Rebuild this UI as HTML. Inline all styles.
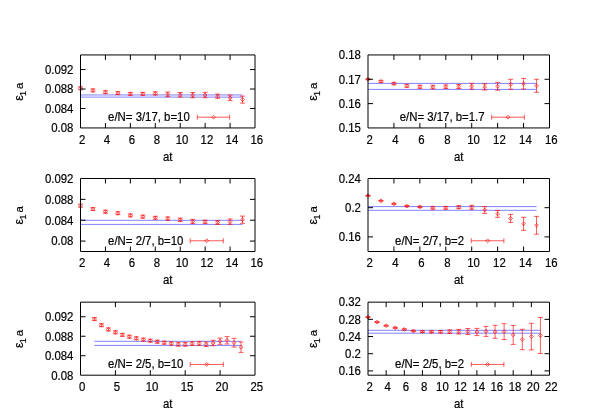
<!DOCTYPE html>
<html><head><meta charset="utf-8"><title>plot</title>
<style>html,body{margin:0;padding:0;background:#fff}svg{display:block;will-change:transform}text{font-family:"Liberation Sans",sans-serif;font-size:11.4px;fill:#000;stroke:#000;stroke-width:0.18px}</style></head><body>
<svg width="589" height="412" viewBox="0 0 589 412">
<rect width="589" height="412" fill="#fff"/>
<path d="M80.50 94.95H242.54M80.50 97.10H242.54" stroke="#0000ff" stroke-width="0.5" fill="none"/>
<path d="M80.50 86.80V89.80M78.00 86.80h5M78.00 89.80h5M78.60 88.30l1.90 -1.90l1.90 1.90l-1.90 1.90zM92.96 88.90V91.90M90.46 88.90h5M90.46 91.90h5M91.06 90.40l1.90 -1.90l1.90 1.90l-1.90 1.90zM105.43 90.70V93.70M102.93 90.70h5M102.93 93.70h5M103.53 92.20l1.90 -1.90l1.90 1.90l-1.90 1.90zM117.89 91.60V94.60M115.39 91.60h5M115.39 94.60h5M115.99 93.10l1.90 -1.90l1.90 1.90l-1.90 1.90zM130.36 92.40V95.40M127.86 92.40h5M127.86 95.40h5M128.46 93.90l1.90 -1.90l1.90 1.90l-1.90 1.90zM142.82 92.40V95.40M140.32 92.40h5M140.32 95.40h5M140.92 93.90l1.90 -1.90l1.90 1.90l-1.90 1.90zM155.29 91.80V95.00M152.79 91.80h5M152.79 95.00h5M153.39 93.40l1.90 -1.90l1.90 1.90l-1.90 1.90zM167.75 92.00V96.60M165.25 92.00h5M165.25 96.60h5M165.85 94.30l1.90 -1.90l1.90 1.90l-1.90 1.90zM180.21 92.50V97.10M177.71 92.50h5M177.71 97.10h5M178.31 94.80l1.90 -1.90l1.90 1.90l-1.90 1.90zM192.68 92.50V97.70M190.18 92.50h5M190.18 97.70h5M190.78 95.10l1.90 -1.90l1.90 1.90l-1.90 1.90zM205.14 92.30V97.70M202.64 92.30h5M202.64 97.70h5M203.24 95.00l1.90 -1.90l1.90 1.90l-1.90 1.90zM217.61 94.10V98.30M215.11 94.10h5M215.11 98.30h5M215.71 96.20l1.90 -1.90l1.90 1.90l-1.90 1.90zM230.07 95.00V100.60M227.57 95.00h5M227.57 100.60h5M228.17 97.80l1.90 -1.90l1.90 1.90l-1.90 1.90zM242.54 96.10V103.10M240.04 96.10h5M240.04 103.10h5M240.64 99.60l1.90 -1.90l1.90 1.90l-1.90 1.90zM197.30 117.20H229.70M197.30 114.70v5M229.70 114.70v5M211.60 117.20l1.90 -1.90l1.90 1.90l-1.90 1.90z" stroke="#ff0000" stroke-width="0.65" fill="none"/>
<path d="M80.50 54.95H255.00V127.95H80.50ZM105.43 127.95v-5.00M105.43 54.95v5.00M130.36 127.95v-5.00M130.36 54.95v5.00M155.29 127.95v-5.00M155.29 54.95v5.00M180.21 127.95v-5.00M180.21 54.95v5.00M205.14 127.95v-5.00M205.14 54.95v5.00M230.07 127.95v-5.00M230.07 54.95v5.00M80.50 108.48h5.00M255.00 108.48h-5.00M80.50 89.02h5.00M255.00 89.02h-5.00M80.50 69.55h5.00M255.00 69.55h-5.00" stroke="#000000" stroke-width="1.0" fill="none" stroke-linecap="butt"/>
<text transform="translate(82.10 143.65) scale(1 1.05)" text-anchor="middle">2</text>
<text transform="translate(107.03 143.65) scale(1 1.05)" text-anchor="middle">4</text>
<text transform="translate(131.96 143.65) scale(1 1.05)" text-anchor="middle">6</text>
<text transform="translate(156.89 143.65) scale(1 1.05)" text-anchor="middle">8</text>
<text transform="translate(182.01 143.65) scale(1 1.05)" text-anchor="middle">10</text>
<text transform="translate(206.94 143.65) scale(1 1.05)" text-anchor="middle">12</text>
<text transform="translate(231.87 143.65) scale(1 1.05)" text-anchor="middle">14</text>
<text transform="translate(256.80 143.65) scale(1 1.05)" text-anchor="middle">16</text>
<text transform="translate(73.40 132.25) scale(1 1.05)" text-anchor="end">0.08</text>
<text transform="translate(73.40 112.78) scale(1 1.05)" text-anchor="end">0.084</text>
<text transform="translate(73.40 93.32) scale(1 1.05)" text-anchor="end">0.088</text>
<text transform="translate(73.40 73.85) scale(1 1.05)" text-anchor="end">0.092</text>
<text transform="translate(167.75 160.55) scale(1 1.05)" text-anchor="middle">at</text>
<g transform="translate(22.80 91.75) rotate(-90)"><text x="-9.1" y="0" style="font-size:12.4px">&#949;</text><text x="-4.3" y="3.2" style="font-size:9.12px">1</text><text x="2.8" y="0">a</text></g>
<text transform="translate(108.10 121.10) scale(1 1.05)" text-anchor="start">e/N= 3/17, b=10</text>
<path d="M368.00 83.40H536.54M368.00 89.40H536.54" stroke="#0000ff" stroke-width="0.5" fill="none"/>
<path d="M368.00 78.70V79.70M365.50 78.70h5M365.50 79.70h5M366.10 79.20l1.90 -1.90l1.90 1.90l-1.90 1.90zM380.96 80.40V82.40M378.46 80.40h5M378.46 82.40h5M379.06 81.40l1.90 -1.90l1.90 1.90l-1.90 1.90zM393.93 82.40V84.80M391.43 82.40h5M391.43 84.80h5M392.03 83.60l1.90 -1.90l1.90 1.90l-1.90 1.90zM406.89 84.30V87.30M404.39 84.30h5M404.39 87.30h5M404.99 85.80l1.90 -1.90l1.90 1.90l-1.90 1.90zM419.86 85.20V88.40M417.36 85.20h5M417.36 88.40h5M417.96 86.80l1.90 -1.90l1.90 1.90l-1.90 1.90zM432.82 85.20V88.80M430.32 85.20h5M430.32 88.80h5M430.92 87.00l1.90 -1.90l1.90 1.90l-1.90 1.90zM445.79 84.90V88.50M443.29 84.90h5M443.29 88.50h5M443.89 86.70l1.90 -1.90l1.90 1.90l-1.90 1.90zM458.75 84.50V88.50M456.25 84.50h5M456.25 88.50h5M456.85 86.50l1.90 -1.90l1.90 1.90l-1.90 1.90zM471.71 83.40V89.20M469.21 83.40h5M469.21 89.20h5M469.81 86.30l1.90 -1.90l1.90 1.90l-1.90 1.90zM484.68 83.80V90.00M482.18 83.80h5M482.18 90.00h5M482.78 86.90l1.90 -1.90l1.90 1.90l-1.90 1.90zM497.64 82.40V90.20M495.14 82.40h5M495.14 90.20h5M495.74 86.30l1.90 -1.90l1.90 1.90l-1.90 1.90zM510.61 79.30V89.30M508.11 79.30h5M508.11 89.30h5M508.71 84.30l1.90 -1.90l1.90 1.90l-1.90 1.90zM523.57 78.40V89.00M521.07 78.40h5M521.07 89.00h5M521.67 83.70l1.90 -1.90l1.90 1.90l-1.90 1.90zM536.54 79.30V92.30M534.04 79.30h5M534.04 92.30h5M534.64 85.80l1.90 -1.90l1.90 1.90l-1.90 1.90zM491.70 117.20H524.30M491.70 114.70v5M524.30 114.70v5M506.10 117.20l1.90 -1.90l1.90 1.90l-1.90 1.90z" stroke="#ff0000" stroke-width="0.65" fill="none"/>
<path d="M368.00 54.95H549.50V127.95H368.00ZM393.93 127.95v-5.00M393.93 54.95v5.00M419.86 127.95v-5.00M419.86 54.95v5.00M445.79 127.95v-5.00M445.79 54.95v5.00M471.71 127.95v-5.00M471.71 54.95v5.00M497.64 127.95v-5.00M497.64 54.95v5.00M523.57 127.95v-5.00M523.57 54.95v5.00M368.00 103.62h5.00M549.50 103.62h-5.00M368.00 79.28h5.00M549.50 79.28h-5.00" stroke="#000000" stroke-width="1.0" fill="none" stroke-linecap="butt"/>
<text transform="translate(369.60 143.65) scale(1 1.05)" text-anchor="middle">2</text>
<text transform="translate(395.53 143.65) scale(1 1.05)" text-anchor="middle">4</text>
<text transform="translate(421.46 143.65) scale(1 1.05)" text-anchor="middle">6</text>
<text transform="translate(447.39 143.65) scale(1 1.05)" text-anchor="middle">8</text>
<text transform="translate(473.51 143.65) scale(1 1.05)" text-anchor="middle">10</text>
<text transform="translate(499.44 143.65) scale(1 1.05)" text-anchor="middle">12</text>
<text transform="translate(525.37 143.65) scale(1 1.05)" text-anchor="middle">14</text>
<text transform="translate(551.30 143.65) scale(1 1.05)" text-anchor="middle">16</text>
<text transform="translate(360.90 132.25) scale(1 1.05)" text-anchor="end">0.15</text>
<text transform="translate(360.90 107.92) scale(1 1.05)" text-anchor="end">0.16</text>
<text transform="translate(360.90 83.58) scale(1 1.05)" text-anchor="end">0.17</text>
<text transform="translate(360.90 59.25) scale(1 1.05)" text-anchor="end">0.18</text>
<text transform="translate(458.75 160.55) scale(1 1.05)" text-anchor="middle">at</text>
<g transform="translate(316.90 91.75) rotate(-90)"><text x="-9.1" y="0" style="font-size:12.4px">&#949;</text><text x="-4.3" y="3.2" style="font-size:9.12px">1</text><text x="2.8" y="0">a</text></g>
<text transform="translate(399.70 121.10) scale(1 1.05)" text-anchor="start">e/N= 3/17, b=1.7</text>
<path d="M80.50 220.30H242.54M80.50 224.40H242.54" stroke="#0000ff" stroke-width="0.5" fill="none"/>
<path d="M80.50 204.20V207.20M78.00 204.20h5M78.00 207.20h5M78.60 205.70l1.90 -1.90l1.90 1.90l-1.90 1.90zM92.96 207.60V210.60M90.46 207.60h5M90.46 210.60h5M91.06 209.10l1.90 -1.90l1.90 1.90l-1.90 1.90zM105.43 210.20V213.20M102.93 210.20h5M102.93 213.20h5M103.53 211.70l1.90 -1.90l1.90 1.90l-1.90 1.90zM117.89 211.70V214.70M115.39 211.70h5M115.39 214.70h5M115.99 213.20l1.90 -1.90l1.90 1.90l-1.90 1.90zM130.36 213.90V216.90M127.86 213.90h5M127.86 216.90h5M128.46 215.40l1.90 -1.90l1.90 1.90l-1.90 1.90zM142.82 215.20V218.20M140.32 215.20h5M140.32 218.20h5M140.92 216.70l1.90 -1.90l1.90 1.90l-1.90 1.90zM155.29 216.30V219.30M152.79 216.30h5M152.79 219.30h5M153.39 217.80l1.90 -1.90l1.90 1.90l-1.90 1.90zM167.75 216.90V220.30M165.25 216.90h5M165.25 220.30h5M165.85 218.60l1.90 -1.90l1.90 1.90l-1.90 1.90zM180.21 218.10V221.50M177.71 218.10h5M177.71 221.50h5M178.31 219.80l1.90 -1.90l1.90 1.90l-1.90 1.90zM192.68 219.40V223.40M190.18 219.40h5M190.18 223.40h5M190.78 221.40l1.90 -1.90l1.90 1.90l-1.90 1.90zM205.14 220.20V223.40M202.64 220.20h5M202.64 223.40h5M203.24 221.80l1.90 -1.90l1.90 1.90l-1.90 1.90zM217.61 220.60V224.40M215.11 220.60h5M215.11 224.40h5M215.71 222.50l1.90 -1.90l1.90 1.90l-1.90 1.90zM230.07 218.90V224.30M227.57 218.90h5M227.57 224.30h5M228.17 221.60l1.90 -1.90l1.90 1.90l-1.90 1.90zM242.54 216.10V223.30M240.04 216.10h5M240.04 223.30h5M240.64 219.70l1.90 -1.90l1.90 1.90l-1.90 1.90zM190.20 240.75H223.30M190.20 238.25v5M223.30 238.25v5M204.85 240.75l1.90 -1.90l1.90 1.90l-1.90 1.90z" stroke="#ff0000" stroke-width="0.65" fill="none"/>
<path d="M80.50 178.50H255.00V251.50H80.50ZM105.43 251.50v-5.00M105.43 178.50v5.00M130.36 251.50v-5.00M130.36 178.50v5.00M155.29 251.50v-5.00M155.29 178.50v5.00M180.21 251.50v-5.00M180.21 178.50v5.00M205.14 251.50v-5.00M205.14 178.50v5.00M230.07 251.50v-5.00M230.07 178.50v5.00M80.50 241.07h5.00M255.00 241.07h-5.00M80.50 220.21h5.00M255.00 220.21h-5.00M80.50 199.36h5.00M255.00 199.36h-5.00" stroke="#000000" stroke-width="1.0" fill="none" stroke-linecap="butt"/>
<text transform="translate(82.10 267.20) scale(1 1.05)" text-anchor="middle">2</text>
<text transform="translate(107.03 267.20) scale(1 1.05)" text-anchor="middle">4</text>
<text transform="translate(131.96 267.20) scale(1 1.05)" text-anchor="middle">6</text>
<text transform="translate(156.89 267.20) scale(1 1.05)" text-anchor="middle">8</text>
<text transform="translate(182.01 267.20) scale(1 1.05)" text-anchor="middle">10</text>
<text transform="translate(206.94 267.20) scale(1 1.05)" text-anchor="middle">12</text>
<text transform="translate(231.87 267.20) scale(1 1.05)" text-anchor="middle">14</text>
<text transform="translate(256.80 267.20) scale(1 1.05)" text-anchor="middle">16</text>
<text transform="translate(73.40 245.37) scale(1 1.05)" text-anchor="end">0.08</text>
<text transform="translate(73.40 224.51) scale(1 1.05)" text-anchor="end">0.084</text>
<text transform="translate(73.40 203.66) scale(1 1.05)" text-anchor="end">0.088</text>
<text transform="translate(73.40 182.80) scale(1 1.05)" text-anchor="end">0.092</text>
<text transform="translate(167.75 284.10) scale(1 1.05)" text-anchor="middle">at</text>
<g transform="translate(22.80 215.30) rotate(-90)"><text x="-9.1" y="0" style="font-size:12.4px">&#949;</text><text x="-4.3" y="3.2" style="font-size:9.12px">1</text><text x="2.8" y="0">a</text></g>
<text transform="translate(108.10 244.65) scale(1 1.05)" text-anchor="start">e/N= 2/7, b=10</text>
<path d="M368.00 206.60H536.54M368.00 210.30H536.54" stroke="#0000ff" stroke-width="0.5" fill="none"/>
<path d="M368.00 195.40V196.00M365.50 195.40h5M365.50 196.00h5M366.10 195.70l1.90 -1.90l1.90 1.90l-1.90 1.90zM380.96 200.40V201.20M378.46 200.40h5M378.46 201.20h5M379.06 200.80l1.90 -1.90l1.90 1.90l-1.90 1.90zM393.93 203.30V204.30M391.43 203.30h5M391.43 204.30h5M392.03 203.80l1.90 -1.90l1.90 1.90l-1.90 1.90zM406.89 205.50V206.70M404.39 205.50h5M404.39 206.70h5M404.99 206.10l1.90 -1.90l1.90 1.90l-1.90 1.90zM419.86 206.20V207.60M417.36 206.20h5M417.36 207.60h5M417.96 206.90l1.90 -1.90l1.90 1.90l-1.90 1.90zM432.82 206.60V209.20M430.32 206.60h5M430.32 209.20h5M430.92 207.90l1.90 -1.90l1.90 1.90l-1.90 1.90zM445.79 206.50V209.30M443.29 206.50h5M443.29 209.30h5M443.89 207.90l1.90 -1.90l1.90 1.90l-1.90 1.90zM458.75 205.70V208.70M456.25 205.70h5M456.25 208.70h5M456.85 207.20l1.90 -1.90l1.90 1.90l-1.90 1.90zM471.71 205.30V209.30M469.21 205.30h5M469.21 209.30h5M469.81 207.30l1.90 -1.90l1.90 1.90l-1.90 1.90zM484.68 206.60V213.40M482.18 206.60h5M482.18 213.40h5M482.78 210.00l1.90 -1.90l1.90 1.90l-1.90 1.90zM497.64 210.50V217.30M495.14 210.50h5M495.14 217.30h5M495.74 213.90l1.90 -1.90l1.90 1.90l-1.90 1.90zM510.61 214.40V222.40M508.11 214.40h5M508.11 222.40h5M508.71 218.40l1.90 -1.90l1.90 1.90l-1.90 1.90zM523.57 217.30V230.30M521.07 217.30h5M521.07 230.30h5M521.67 223.80l1.90 -1.90l1.90 1.90l-1.90 1.90zM536.54 216.40V234.20M534.04 216.40h5M534.04 234.20h5M534.64 225.30l1.90 -1.90l1.90 1.90l-1.90 1.90zM471.30 240.75H503.90M471.30 238.25v5M503.90 238.25v5M485.70 240.75l1.90 -1.90l1.90 1.90l-1.90 1.90z" stroke="#ff0000" stroke-width="0.65" fill="none"/>
<path d="M368.00 178.50H549.50V251.50H368.00ZM393.93 251.50v-5.00M393.93 178.50v5.00M419.86 251.50v-5.00M419.86 178.50v5.00M445.79 251.50v-5.00M445.79 178.50v5.00M471.71 251.50v-5.00M471.71 178.50v5.00M497.64 251.50v-5.00M497.64 178.50v5.00M523.57 251.50v-5.00M523.57 178.50v5.00M368.00 236.90h5.00M549.50 236.90h-5.00M368.00 207.70h5.00M549.50 207.70h-5.00" stroke="#000000" stroke-width="1.0" fill="none" stroke-linecap="butt"/>
<text transform="translate(369.60 267.20) scale(1 1.05)" text-anchor="middle">2</text>
<text transform="translate(395.53 267.20) scale(1 1.05)" text-anchor="middle">4</text>
<text transform="translate(421.46 267.20) scale(1 1.05)" text-anchor="middle">6</text>
<text transform="translate(447.39 267.20) scale(1 1.05)" text-anchor="middle">8</text>
<text transform="translate(473.51 267.20) scale(1 1.05)" text-anchor="middle">10</text>
<text transform="translate(499.44 267.20) scale(1 1.05)" text-anchor="middle">12</text>
<text transform="translate(525.37 267.20) scale(1 1.05)" text-anchor="middle">14</text>
<text transform="translate(551.30 267.20) scale(1 1.05)" text-anchor="middle">16</text>
<text transform="translate(360.90 241.20) scale(1 1.05)" text-anchor="end">0.16</text>
<text transform="translate(360.90 212.00) scale(1 1.05)" text-anchor="end">0.2</text>
<text transform="translate(360.90 182.80) scale(1 1.05)" text-anchor="end">0.24</text>
<text transform="translate(458.75 284.10) scale(1 1.05)" text-anchor="middle">at</text>
<g transform="translate(316.90 215.30) rotate(-90)"><text x="-9.1" y="0" style="font-size:12.4px">&#949;</text><text x="-4.3" y="3.2" style="font-size:9.12px">1</text><text x="2.8" y="0">a</text></g>
<text transform="translate(395.10 244.65) scale(1 1.05)" text-anchor="start">e/N= 2/7, b=2</text>
<path d="M94.46 341.30H241.04M94.46 345.40H241.04" stroke="#0000ff" stroke-width="0.5" fill="none"/>
<path d="M94.46 317.60V320.60M91.96 317.60h5M91.96 320.60h5M92.56 319.10l1.90 -1.90l1.90 1.90l-1.90 1.90zM101.44 323.70V326.70M98.94 323.70h5M98.94 326.70h5M99.54 325.20l1.90 -1.90l1.90 1.90l-1.90 1.90zM108.42 327.90V330.90M105.92 327.90h5M105.92 330.90h5M106.52 329.40l1.90 -1.90l1.90 1.90l-1.90 1.90zM115.40 330.80V333.80M112.90 330.80h5M112.90 333.80h5M113.50 332.30l1.90 -1.90l1.90 1.90l-1.90 1.90zM122.38 333.40V336.40M119.88 333.40h5M119.88 336.40h5M120.48 334.90l1.90 -1.90l1.90 1.90l-1.90 1.90zM129.36 335.20V338.20M126.86 335.20h5M126.86 338.20h5M127.46 336.70l1.90 -1.90l1.90 1.90l-1.90 1.90zM136.34 336.80V339.80M133.84 336.80h5M133.84 339.80h5M134.44 338.30l1.90 -1.90l1.90 1.90l-1.90 1.90zM143.32 338.10V341.10M140.82 338.10h5M140.82 341.10h5M141.42 339.60l1.90 -1.90l1.90 1.90l-1.90 1.90zM150.30 339.20V342.20M147.80 339.20h5M147.80 342.20h5M148.40 340.70l1.90 -1.90l1.90 1.90l-1.90 1.90zM157.28 340.20V343.20M154.78 340.20h5M154.78 343.20h5M155.38 341.70l1.90 -1.90l1.90 1.90l-1.90 1.90zM164.26 341.20V344.20M161.76 341.20h5M161.76 344.20h5M162.36 342.70l1.90 -1.90l1.90 1.90l-1.90 1.90zM171.24 341.90V345.10M168.74 341.90h5M168.74 345.10h5M169.34 343.50l1.90 -1.90l1.90 1.90l-1.90 1.90zM178.22 342.40V346.20M175.72 342.40h5M175.72 346.20h5M176.32 344.30l1.90 -1.90l1.90 1.90l-1.90 1.90zM185.20 342.40V346.20M182.70 342.40h5M182.70 346.20h5M183.30 344.30l1.90 -1.90l1.90 1.90l-1.90 1.90zM192.18 341.80V345.40M189.68 341.80h5M189.68 345.40h5M190.28 343.60l1.90 -1.90l1.90 1.90l-1.90 1.90zM199.16 341.50V345.30M196.66 341.50h5M196.66 345.30h5M197.26 343.40l1.90 -1.90l1.90 1.90l-1.90 1.90zM206.14 342.00V346.60M203.64 342.00h5M203.64 346.60h5M204.24 344.30l1.90 -1.90l1.90 1.90l-1.90 1.90zM213.12 340.30V345.70M210.62 340.30h5M210.62 345.70h5M211.22 343.00l1.90 -1.90l1.90 1.90l-1.90 1.90zM220.10 338.10V344.30M217.60 338.10h5M217.60 344.30h5M218.20 341.20l1.90 -1.90l1.90 1.90l-1.90 1.90zM227.08 336.60V344.00M224.58 336.60h5M224.58 344.00h5M225.18 340.30l1.90 -1.90l1.90 1.90l-1.90 1.90zM234.06 338.30V347.10M231.56 338.30h5M231.56 347.10h5M232.16 342.70l1.90 -1.90l1.90 1.90l-1.90 1.90zM241.04 342.00V352.40M238.54 342.00h5M238.54 352.40h5M239.14 347.20l1.90 -1.90l1.90 1.90l-1.90 1.90zM190.20 364.45H223.30M190.20 361.95v5M223.30 361.95v5M204.85 364.45l1.90 -1.90l1.90 1.90l-1.90 1.90z" stroke="#ff0000" stroke-width="0.65" fill="none"/>
<path d="M80.50 302.15H255.00V375.20H80.50ZM115.40 375.20v-5.00M115.40 302.15v5.00M150.30 375.20v-5.00M150.30 302.15v5.00M185.20 375.20v-5.00M185.20 302.15v5.00M220.10 375.20v-5.00M220.10 302.15v5.00M80.50 355.72h5.00M255.00 355.72h-5.00M80.50 336.24h5.00M255.00 336.24h-5.00M80.50 316.76h5.00M255.00 316.76h-5.00" stroke="#000000" stroke-width="1.0" fill="none" stroke-linecap="butt"/>
<text transform="translate(82.10 390.90) scale(1 1.05)" text-anchor="middle">0</text>
<text transform="translate(117.00 390.90) scale(1 1.05)" text-anchor="middle">5</text>
<text transform="translate(152.10 390.90) scale(1 1.05)" text-anchor="middle">10</text>
<text transform="translate(187.00 390.90) scale(1 1.05)" text-anchor="middle">15</text>
<text transform="translate(221.90 390.90) scale(1 1.05)" text-anchor="middle">20</text>
<text transform="translate(256.80 390.90) scale(1 1.05)" text-anchor="middle">25</text>
<text transform="translate(73.40 379.50) scale(1 1.05)" text-anchor="end">0.08</text>
<text transform="translate(73.40 360.02) scale(1 1.05)" text-anchor="end">0.084</text>
<text transform="translate(73.40 340.54) scale(1 1.05)" text-anchor="end">0.088</text>
<text transform="translate(73.40 321.06) scale(1 1.05)" text-anchor="end">0.092</text>
<text transform="translate(167.75 407.80) scale(1 1.05)" text-anchor="middle">at</text>
<g transform="translate(22.80 338.97) rotate(-90)"><text x="-9.1" y="0" style="font-size:12.4px">&#949;</text><text x="-4.3" y="3.2" style="font-size:9.12px">1</text><text x="2.8" y="0">a</text></g>
<text transform="translate(108.10 368.35) scale(1 1.05)" text-anchor="start">e/N= 2/5, b=10</text>
<path d="M368.00 330.30H540.42M368.00 333.20H540.42" stroke="#0000ff" stroke-width="0.5" fill="none"/>
<path d="M368.00 316.80V317.40M365.50 316.80h5M365.50 317.40h5M366.10 317.10l1.90 -1.90l1.90 1.90l-1.90 1.90zM377.07 321.70V322.50M374.57 321.70h5M374.57 322.50h5M375.18 322.10l1.90 -1.90l1.90 1.90l-1.90 1.90zM386.15 325.30V326.10M383.65 325.30h5M383.65 326.10h5M384.25 325.70l1.90 -1.90l1.90 1.90l-1.90 1.90zM395.23 327.30V328.30M392.73 327.30h5M392.73 328.30h5M393.33 327.80l1.90 -1.90l1.90 1.90l-1.90 1.90zM404.30 328.80V330.00M401.80 328.80h5M401.80 330.00h5M402.40 329.40l1.90 -1.90l1.90 1.90l-1.90 1.90zM413.38 330.30V331.70M410.88 330.30h5M410.88 331.70h5M411.48 331.00l1.90 -1.90l1.90 1.90l-1.90 1.90zM422.45 330.90V332.50M419.95 330.90h5M419.95 332.50h5M420.55 331.70l1.90 -1.90l1.90 1.90l-1.90 1.90zM431.52 330.80V332.80M429.02 330.80h5M429.02 332.80h5M429.62 331.80l1.90 -1.90l1.90 1.90l-1.90 1.90zM440.60 330.50V333.10M438.10 330.50h5M438.10 333.10h5M438.70 331.80l1.90 -1.90l1.90 1.90l-1.90 1.90zM449.68 329.90V333.50M447.18 329.90h5M447.18 333.50h5M447.78 331.70l1.90 -1.90l1.90 1.90l-1.90 1.90zM458.75 329.40V334.00M456.25 329.40h5M456.25 334.00h5M456.85 331.70l1.90 -1.90l1.90 1.90l-1.90 1.90zM467.82 328.50V334.50M465.32 328.50h5M465.32 334.50h5M465.93 331.50l1.90 -1.90l1.90 1.90l-1.90 1.90zM476.90 328.40V335.60M474.40 328.40h5M474.40 335.60h5M475.00 332.00l1.90 -1.90l1.90 1.90l-1.90 1.90zM485.98 326.40V336.40M483.48 326.40h5M483.48 336.40h5M484.08 331.40l1.90 -1.90l1.90 1.90l-1.90 1.90zM495.05 325.30V338.30M492.55 325.30h5M492.55 338.30h5M493.15 331.80l1.90 -1.90l1.90 1.90l-1.90 1.90zM504.12 323.70V339.50M501.62 323.70h5M501.62 339.50h5M502.23 331.60l1.90 -1.90l1.90 1.90l-1.90 1.90zM513.20 325.40V344.40M510.70 325.40h5M510.70 344.40h5M511.30 334.90l1.90 -1.90l1.90 1.90l-1.90 1.90zM522.27 329.30V349.70M519.77 329.30h5M519.77 349.70h5M520.38 339.50l1.90 -1.90l1.90 1.90l-1.90 1.90zM531.35 323.30V349.90M528.85 323.30h5M528.85 349.90h5M529.45 336.60l1.90 -1.90l1.90 1.90l-1.90 1.90zM540.42 317.50V353.50M537.92 317.50h5M537.92 353.50h5M538.52 335.50l1.90 -1.90l1.90 1.90l-1.90 1.90zM471.30 364.45H503.90M471.30 361.95v5M503.90 361.95v5M485.70 364.45l1.90 -1.90l1.90 1.90l-1.90 1.90z" stroke="#ff0000" stroke-width="0.65" fill="none"/>
<path d="M368.00 302.15H549.50V375.20H368.00ZM386.15 375.20v-5.00M386.15 302.15v5.00M404.30 375.20v-5.00M404.30 302.15v5.00M422.45 375.20v-5.00M422.45 302.15v5.00M440.60 375.20v-5.00M440.60 302.15v5.00M458.75 375.20v-5.00M458.75 302.15v5.00M476.90 375.20v-5.00M476.90 302.15v5.00M495.05 375.20v-5.00M495.05 302.15v5.00M513.20 375.20v-5.00M513.20 302.15v5.00M531.35 375.20v-5.00M531.35 302.15v5.00M368.00 370.90h5.00M549.50 370.90h-5.00M368.00 353.71h5.00M549.50 353.71h-5.00M368.00 336.53h5.00M549.50 336.53h-5.00M368.00 319.34h5.00M549.50 319.34h-5.00" stroke="#000000" stroke-width="1.0" fill="none" stroke-linecap="butt"/>
<text transform="translate(369.60 390.90) scale(1 1.05)" text-anchor="middle">2</text>
<text transform="translate(387.75 390.90) scale(1 1.05)" text-anchor="middle">4</text>
<text transform="translate(405.90 390.90) scale(1 1.05)" text-anchor="middle">6</text>
<text transform="translate(424.05 390.90) scale(1 1.05)" text-anchor="middle">8</text>
<text transform="translate(442.40 390.90) scale(1 1.05)" text-anchor="middle">10</text>
<text transform="translate(460.55 390.90) scale(1 1.05)" text-anchor="middle">12</text>
<text transform="translate(478.70 390.90) scale(1 1.05)" text-anchor="middle">14</text>
<text transform="translate(496.85 390.90) scale(1 1.05)" text-anchor="middle">16</text>
<text transform="translate(515.00 390.90) scale(1 1.05)" text-anchor="middle">18</text>
<text transform="translate(533.15 390.90) scale(1 1.05)" text-anchor="middle">20</text>
<text transform="translate(551.30 390.90) scale(1 1.05)" text-anchor="middle">22</text>
<text transform="translate(360.90 375.20) scale(1 1.05)" text-anchor="end">0.16</text>
<text transform="translate(360.90 358.01) scale(1 1.05)" text-anchor="end">0.2</text>
<text transform="translate(360.90 340.83) scale(1 1.05)" text-anchor="end">0.24</text>
<text transform="translate(360.90 323.64) scale(1 1.05)" text-anchor="end">0.28</text>
<text transform="translate(360.90 306.45) scale(1 1.05)" text-anchor="end">0.32</text>
<text transform="translate(458.75 407.80) scale(1 1.05)" text-anchor="middle">at</text>
<g transform="translate(316.90 338.97) rotate(-90)"><text x="-9.1" y="0" style="font-size:12.4px">&#949;</text><text x="-4.3" y="3.2" style="font-size:9.12px">1</text><text x="2.8" y="0">a</text></g>
<text transform="translate(395.10 368.35) scale(1 1.05)" text-anchor="start">e/N= 2/5, b=2</text>
</svg></body></html>
